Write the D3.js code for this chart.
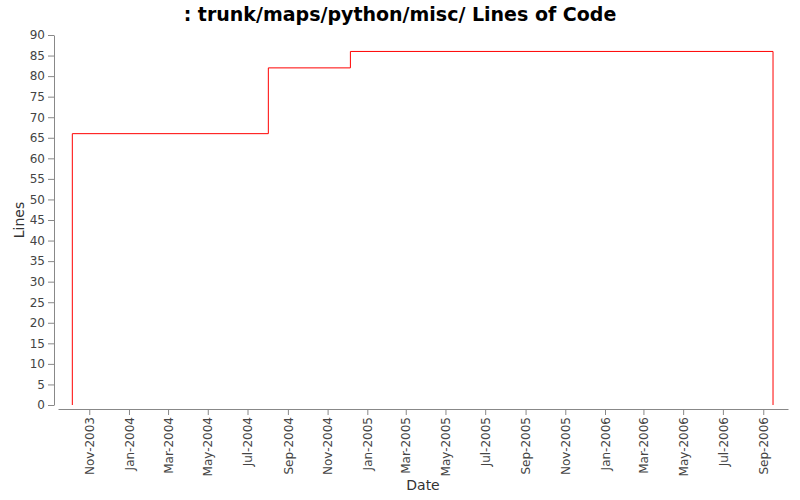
<!DOCTYPE html>
<html><head><meta charset="utf-8">
<script src="https://cdn.jsdelivr.net/npm/d3@7"></script>
<style>body{margin:0;background:#fff}text{font-family:"DejaVu Sans",sans-serif}</style>
</head><body>
<svg id="main" width="800" height="500"></svg>
<script>
var dates = ["2003-10-06", "2003-10-06", "2004-08-02", "2004-12-06", "2006-09-16", "2006-09-16"];
var lines = [0, 66, 82, 86, 86, 0];
var yTicks = d3.range(0, 91, 5);

var parse = d3.timeParse("%Y-%m-%d");
var data = dates.map(function(d, i) { return {date: parse(d), lines: lines[i]}; });

var svg = d3.select("#main"),
    left = 58, right = 788, top = 33, bottom = 405;

var xScale = d3.scaleTime()
        .domain([new Date(2003, 8, 14), new Date(2006, 9, 9)])
        .range([left, right]),
    yScale = d3.scaleLinear()
        .domain([0, 90])
        .range([bottom, 35]);

svg.append("rect")
    .attr("x", left).attr("y", top)
    .attr("width", right - left).attr("height", bottom - top)
    .attr("fill", "none").attr("stroke", "#888");

var xAxis = svg.append("g")
    .attr("transform", "translate(0," + (bottom + 4) + ")")
    .call(d3.axisBottom(xScale).ticks(d3.timeMonth.every(2)).tickFormat(d3.timeFormat("%b-%Y")).tickSizeOuter(0));
xAxis.selectAll("text")
    .attr("transform", "rotate(-90)")
    .attr("x", -8).attr("y", 0).attr("dy", "0.35em")
    .attr("text-anchor", "end");

var yAxis = svg.append("g")
    .attr("transform", "translate(" + (left - 4) + ",0)")
    .call(d3.axisLeft(yScale).tickValues(yTicks).tickSizeOuter(0));

svg.selectAll(".domain, .tick line").attr("stroke", "#888");
svg.selectAll(".tick text").attr("fill", "#444").style("font-size", "12px");

var line = d3.line()
    .x(function(d) { return xScale(d.date); })
    .y(function(d) { return yScale(d.lines); })
    .curve(d3.curveStepAfter);

svg.append("path")
    .attr("d", line(data))
    .attr("fill", "none").attr("stroke", "red").attr("stroke-width", 1);

svg.append("text")
    .attr("x", 400).attr("y", 21).attr("text-anchor", "middle")
    .style("font-size", "19px").style("font-weight", "bold")
    .text(": trunk/maps/python/misc/ Lines of Code");

svg.append("text")
    .attr("x", 423).attr("y", 490).attr("text-anchor", "middle")
    .style("font-size", "14px").attr("fill", "#333")
    .text("Date");

svg.append("text")
    .attr("transform", "translate(24,220) rotate(-90)")
    .attr("text-anchor", "middle")
    .style("font-size", "14px").attr("fill", "#333")
    .text("Lines");
</script>
</body></html>
